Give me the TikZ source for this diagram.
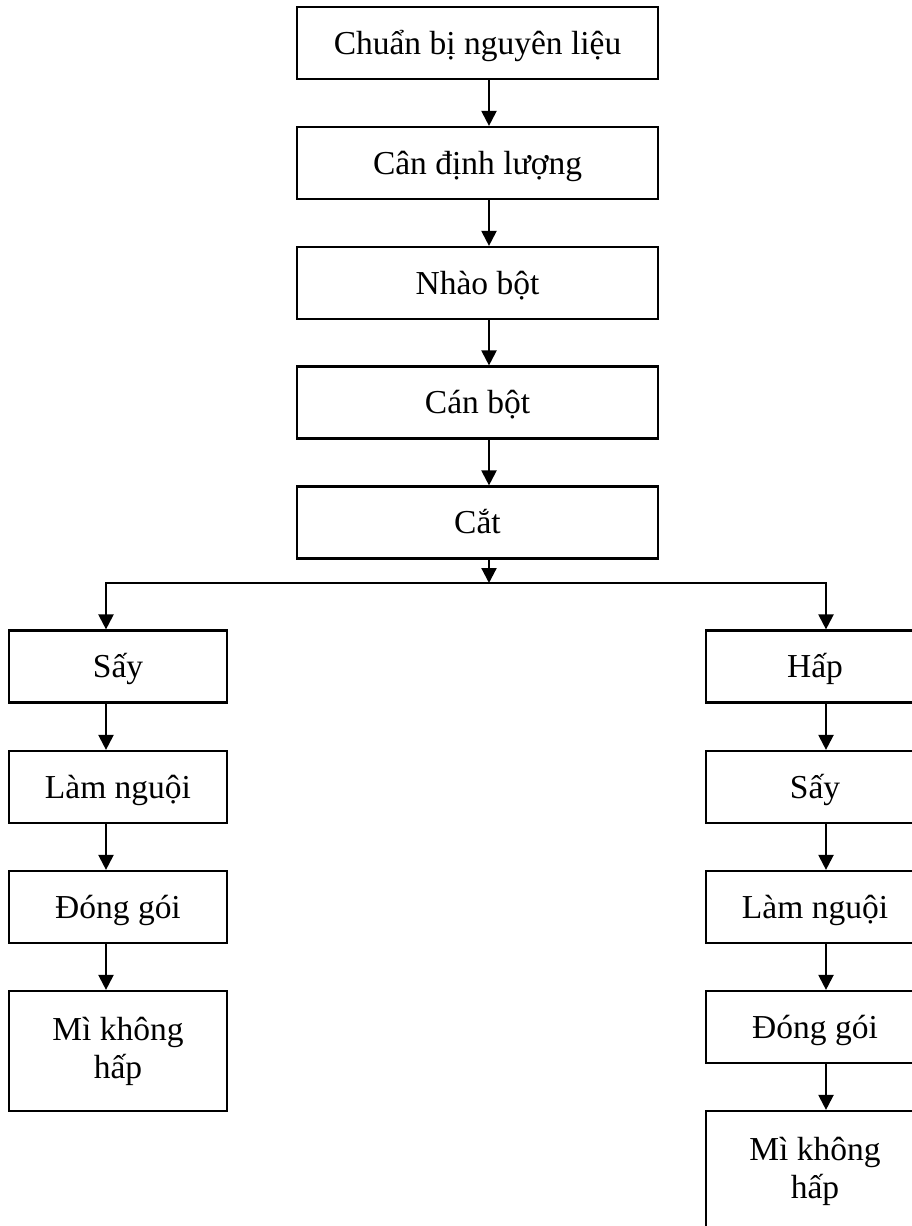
\documentclass[tikz,border=0pt]{standalone}
\usepackage{fontspec}
\setmainfont{Liberation Serif}
\usetikzlibrary{arrows.meta}

\tikzset{
  stepbox/.style={draw, line width=2.2pt, minimum height=72pt, inner sep=0pt,
    align=center, font=\fontsize{33.5}{38}\selectfont},
  onerow/.style={text height=30pt, text depth=8pt},
  mainbox/.style={stepbox, onerow, minimum width=361pt},
  sidebox/.style={stepbox, minimum width=218pt},
  arr/.style={line width=2.2pt, -{Triangle[length=15pt,width=15pt]}}
}

\begin{document}
\begin{tikzpicture}[x=1pt,y=-1pt]
  \useasboundingbox (0,0) rectangle (911,1226);

  % Main column
  \node[mainbox] (chuanbi) at (477.5,43) {Chuẩn bị nguyên liệu};
  \node[mainbox] (can) at (477.5,163) {Cân định lượng};
  \node[mainbox] (nhao) at (477.5,283) {Nhào bột};
  \node[mainbox] (canbot) at (477.5,402.5) {Cán bột};
  \node[mainbox] (cat) at (477.5,522.5) {Cắt};

  % Left branch
  \node[sidebox, onerow] (lsay) at (118,666.5) {Sấy};
  \node[sidebox, onerow] (llam) at (118,787) {Làm nguội};
  \node[sidebox, onerow] (ldong) at (118,907) {Đóng gói};
  \node[sidebox, minimum height=120pt] (lmi) at (118,1051) {Mì không\\hấp};

  % Right branch
  \node[sidebox, onerow] (rhap) at (815,666.5) {Hấp};
  \node[sidebox, onerow] (rsay) at (815,787) {Sấy};
  \node[sidebox, onerow] (rlam) at (815,907) {Làm nguội};
  \node[sidebox, onerow] (rdong) at (815,1027) {Đóng gói};
  \node[sidebox, minimum height=120pt] (rmi) at (815,1171) {Mì không\\hấp};

  % Arrow lines
  \coordinate (mx) at (489,0);
  \coordinate (split) at (489,583);
  \coordinate (lx) at (106,583);
  \coordinate (rx) at (826,583);

  \draw[arr] (chuanbi.south -| mx) -- (can.north -| mx);
  \draw[arr] (can.south -| mx) -- (nhao.north -| mx);
  \draw[arr] (nhao.south -| mx) -- (canbot.north -| mx);
  \draw[arr] (canbot.south -| mx) -- (cat.north -| mx);
  \draw[arr] (cat.south -| mx) -- (split);

  % Split
  \draw[arr] (split) -- (lx) -- (lsay.north -| lx);
  \draw[arr] (split) -- (rx) -- (rhap.north -| rx);

  \draw[arr] (lsay.south -| lx) -- (llam.north -| lx);
  \draw[arr] (llam.south -| lx) -- (ldong.north -| lx);
  \draw[arr] (ldong.south -| lx) -- (lmi.north -| lx);

  \draw[arr] (rhap.south -| rx) -- (rsay.north -| rx);
  \draw[arr] (rsay.south -| rx) -- (rlam.north -| rx);
  \draw[arr] (rlam.south -| rx) -- (rdong.north -| rx);
  \draw[arr] (rdong.south -| rx) -- (rmi.north -| rx);
\end{tikzpicture}
\end{document}
